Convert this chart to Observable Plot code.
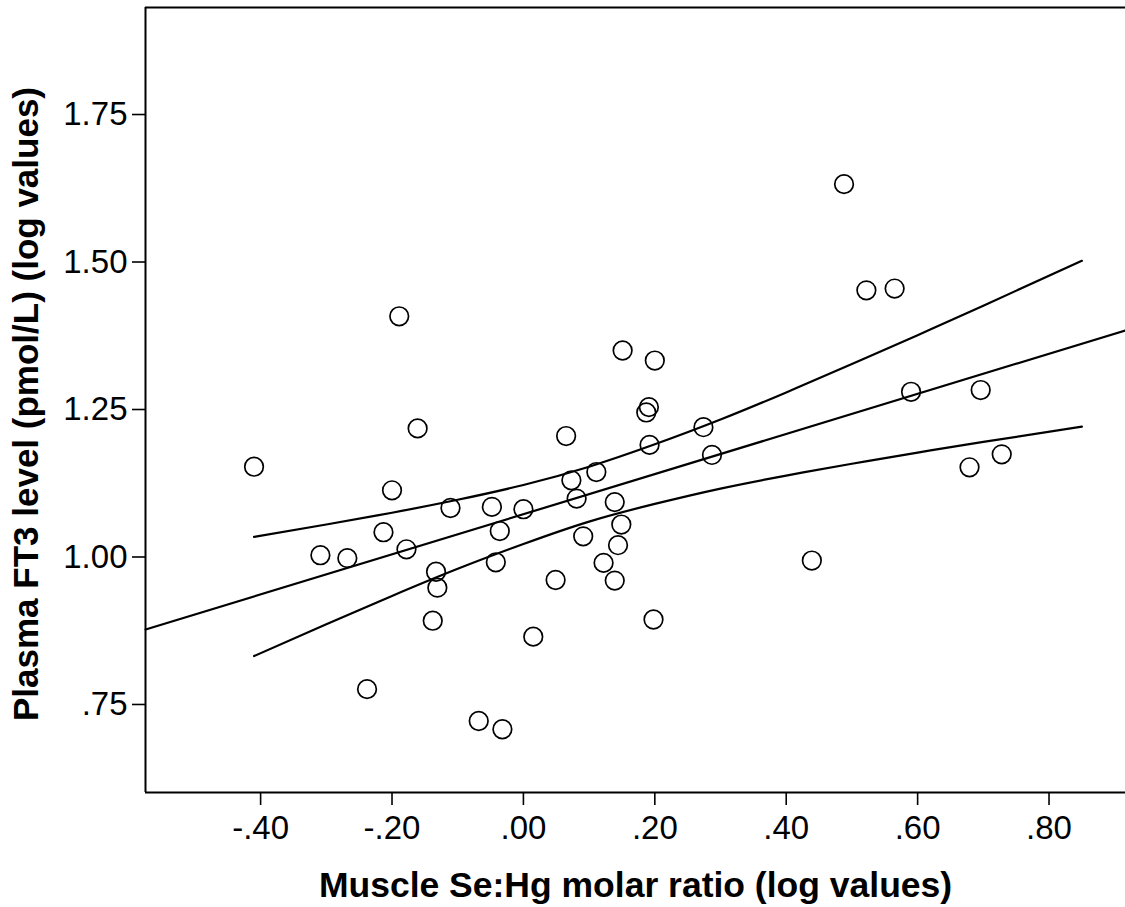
<!DOCTYPE html>
<html>
<head>
<meta charset="utf-8">
<script src="https://cdn.jsdelivr.net/npm/d3@7"></script>
<script src="https://cdn.jsdelivr.net/npm/@observablehq/plot@0.6"></script>
<style>
  html, body { margin: 0; padding: 0; background: #fff; }
  #chart svg { display: block; }
</style>
</head>
<body>
<div id="chart"></div>
<script>
// Scatter points (Muscle Se:Hg log, Plasma FT3 log)
const seHg = [-0.410, -0.189, -0.161, -0.200, -0.309, -0.268, -0.213, -0.178, -0.133, -0.131,
  -0.138, -0.238, -0.111, -0.048, 0.000, -0.036, -0.042, -0.068, -0.032, 0.015,
  0.049, 0.065, 0.073, 0.081, 0.091, 0.111, 0.122, 0.139, 0.139, 0.144,
  0.149, 0.151, 0.200, 0.187, 0.191, 0.192, 0.198, 0.274, 0.287, 0.439,
  0.488, 0.522, 0.565, 0.590, 0.679, 0.696, 0.728];
const ft3 = [1.153, 1.408, 1.218, 1.113, 1.003, 0.998, 1.042, 1.013, 0.975, 0.948,
  0.892, 0.776, 1.083, 1.085, 1.081, 1.044, 0.991, 0.722, 0.708, 0.865,
  0.961, 1.205, 1.130, 1.099, 1.035, 1.144, 0.990, 1.093, 0.960, 1.020,
  1.055, 1.350, 1.333, 1.245, 1.254, 1.190, 0.894, 1.220, 1.173, 0.994,
  1.632, 1.452, 1.455, 1.280, 1.152, 1.283, 1.174];

// Fit line
const fitX = [-0.575, 0.916];
const fitY = [0.877, 1.384];

// Confidence band
const bandX = [-0.41, -0.30, -0.20, -0.10, 0.00, 0.10, 0.20, 0.30, 0.40, 0.50, 0.60, 0.70, 0.85];
const bandUpper = [1.034, 1.055, 1.075, 1.097, 1.122, 1.153, 1.191, 1.233, 1.279, 1.327, 1.376, 1.426, 1.502];
const bandLower = [0.832, 0.886, 0.934, 0.980, 1.022, 1.060, 1.090, 1.116, 1.138, 1.158, 1.177, 1.195, 1.221];

// Ticks
const xTicks = [-0.4, -0.2, 0, 0.2, 0.4, 0.6, 0.8];
const yTicks = [0.75, 1.0, 1.25, 1.5, 1.75];
const xTitle = "Muscle Se:Hg molar ratio (log values)";
const yTitle = "Plasma FT3 level (pmol/L) (log values)";

const points = seHg.map((x, i) => ({x, y: ft3[i]}));
const fit = fitX.map((x, i) => ({x, y: fitY[i]}));
const upper = bandX.map((x, i) => ({x, y: bandUpper[i]}));
const lower = bandX.map((x, i) => ({x, y: bandLower[i]}));

const xDomain = [-0.5752, 0.9164];
const yDomain = [0.6008, 1.9314];

// SPSS-style labels: "-.40", ".00", "1.25"
const fmt = v => {
  const a = Math.abs(v).toFixed(2).replace(/^0\./, ".");
  return (v < -1e-9 ? "-" : "") + a;
};

const font = "'Liberation Sans', Arial, Helvetica, sans-serif";

const chart = Plot.plot({
  width: 1125,
  height: 907,
  marginLeft: 145,
  marginRight: 0,
  marginTop: 7,
  marginBottom: 115,
  style: {fontFamily: font, fontSize: "33px", color: "#000", background: "#fff", overflow: "visible"},
  x: {domain: xDomain},
  y: {domain: yDomain},
  marks: [
    Plot.axisX({ticks: xTicks, tickFormat: fmt, tickSize: 13, tickPadding: 10, strokeWidth: 1.6, label: null, fontSize: 33}),
    Plot.axisY({ticks: yTicks, tickFormat: fmt, tickSize: 13, tickPadding: 5, strokeWidth: 1.6, label: null, fontSize: 33}),
    Plot.ruleX([xDomain[0]], {stroke: "#000", strokeWidth: 2}),
    Plot.ruleY([yDomain[0], yDomain[1]], {stroke: "#000", strokeWidth: 2}),
    Plot.line(upper, {x: "x", y: "y", stroke: "#000", strokeWidth: 2.2, curve: "natural"}),
    Plot.line(lower, {x: "x", y: "y", stroke: "#000", strokeWidth: 2.2, curve: "natural"}),
    Plot.line(fit, {x: "x", y: "y", stroke: "#000", strokeWidth: 2.2}),
    Plot.dot(points, {x: "x", y: "y", r: 9.3, stroke: "#000", strokeWidth: 1.7, fill: "none"}),
    Plot.text([xTitle], {frameAnchor: "bottom", dy: 93, text: d => d, fontWeight: "bold", fontSize: 35.5, textAnchor: "middle", lineAnchor: "middle", fill: "#000"}),
    Plot.text([yTitle], {frameAnchor: "left", dx: -119, dy: 4, rotate: -90, text: d => d, fontWeight: "bold", fontSize: 35, textAnchor: "middle", lineAnchor: "middle", fill: "#000"})
  ]
});
document.getElementById("chart").appendChild(chart);
</script>
</body>
</html>
